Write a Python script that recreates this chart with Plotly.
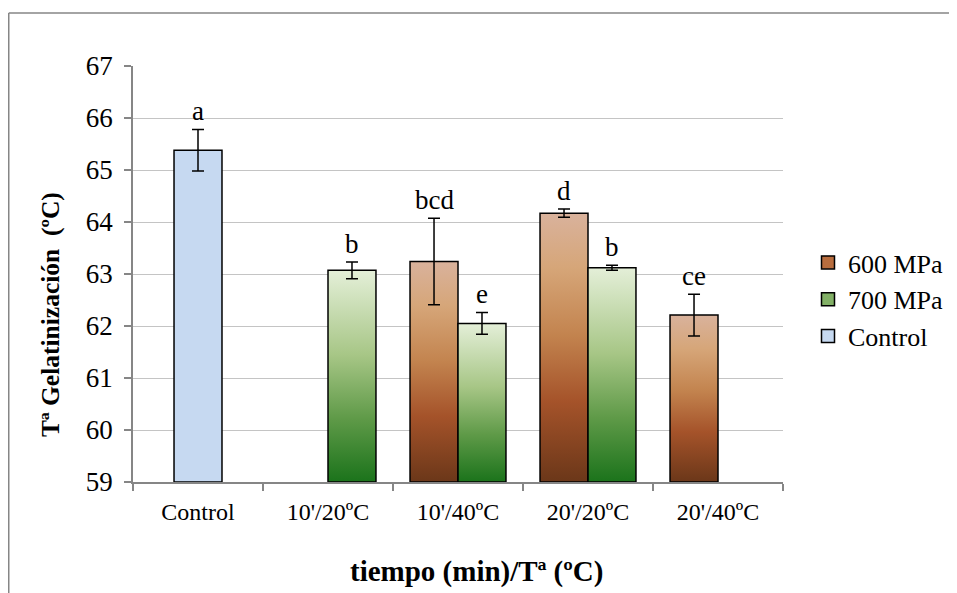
import plotly.graph_objects as go

# ---------------- data ----------------
categories = ["Control", "10'/20ºC", "10'/40ºC", "20'/20ºC", "20'/40ºC"]

p600_values = [None, None, 63.24, 64.17, 62.21]
p600_errors = [None, None, 0.83, 0.08, 0.40]
p600_letters = ["", "", "bcd", "d", "ce"]

p700_values = [None, 63.07, 62.05, 63.12, None]
p700_errors = [None, 0.16, 0.21, 0.05, None]
p700_letters = ["", "b", "e", "b", ""]

control_values = [65.38, None, None, None, None]
control_errors = [0.40, None, None, None, None]
control_letters = ["a", "", "", "", ""]

y_ticks = [59, 60, 61, 62, 63, 64, 65, 66, 67]

x_title = "tiempo (min)/Tª (ºC)"
y_title = "Tª Gelatinización  (ºC)"

# ---------------- styling ----------------
FONT = "Liberation Serif"
Y_MIN, Y_MAX = 59, 67
BAR_W = 0.369

grad_600 = [[0.0, "#6b3719"], [0.3, "#a5532a"], [0.55, "#c3844f"], [0.8, "#d6a679"], [1.0, "#d9b29c"]]
grad_700 = [[0.0, "#1b731b"], [0.3, "#5f9a48"], [0.6, "#a7c686"], [1.0, "#e4efd8"]]
control_color = "#c6d9f1"
legend_colors = {"600 MPa": "#b86d3e", "700 MPa": "#82b066", "Control": control_color}

series = [
    ("600 MPa", p600_values, p600_errors, p600_letters, -BAR_W, 0.0, grad_600),
    ("700 MPa", p700_values, p700_errors, p700_letters, 0.0, BAR_W, grad_700),
    ("Control", control_values, control_errors, control_letters, -BAR_W / 2, BAR_W / 2, None),
]

fig = go.Figure()
letter_annotations = []

for name, vals, errs, letters, off0, off1, grad in series:
    cx, cy, ce = [], [], []
    for i, v in enumerate(vals):
        if v is None:
            continue
        x0, x1 = i + off0, i + off1
        kw = dict(
            x=[x0, x0, x1, x1, x0],
            y=[Y_MIN, v, v, Y_MIN, Y_MIN],
            mode="lines",
            fill="toself",
            line=dict(color="black", width=1.5),
            name=name,
            legendgroup=name,
            showlegend=False,
            hoverinfo="skip",
        )
        if grad is not None:
            kw["fillgradient"] = dict(type="vertical", colorscale=grad)
        else:
            kw["fillcolor"] = control_color
        fig.add_trace(go.Scatter(**kw))
        c = (x0 + x1) / 2
        cx.append(c)
        cy.append(v)
        ce.append(errs[i])
        letter_annotations.append(dict(
            x=c, y=v + errs[i], xref="x", yref="y", text=letters[i],
            showarrow=False, xanchor="center", yanchor="bottom", yshift=1,
            font=dict(family=FONT, size=27, color="black"),
        ))
    fig.add_trace(go.Scatter(
        x=cx, y=cy, mode="markers",
        marker=dict(size=1, opacity=0),
        error_y=dict(type="data", array=ce, color="black", thickness=1.5, width=6),
        showlegend=False, hoverinfo="skip",
    ))

# legend swatches
for name, *_ in series:
    fig.add_trace(go.Scatter(
        x=[None], y=[None], mode="markers", name=name, legendgroup=name,
        marker=dict(symbol="square", size=13, color=legend_colors[name],
                    line=dict(color="black", width=1.5)),
        showlegend=True, hoverinfo="skip",
    ))

W, H = 957, 593
L, T = 125, 58
R, B = W - 775, H - 474
pw, ph = W - L - R, H - T - B

fig.update_layout(
    width=W, height=H,
    margin=dict(l=L, r=R, t=T, b=B),
    paper_bgcolor="white", plot_bgcolor="white",
    font=dict(family=FONT, color="black"),
    xaxis=dict(
        range=[-0.5, len(categories) - 0.5],
        tickmode="array",
        tickvals=list(range(len(categories))),
        ticktext=categories,
        ticks="",
        tickfont=dict(family=FONT, size=24),
        ticklabelstandoff=7,
        showgrid=False, zeroline=False,
        showline=True, linecolor="#868686", linewidth=1.5,
        minor=dict(
            tickmode="array",
            tickvals=[i - 0.5 for i in range(len(categories) + 1)],
            ticks="outside", ticklen=7, tickwidth=1.5, tickcolor="#868686",
            showgrid=False,
        ),
        fixedrange=True,
    ),
    yaxis=dict(
        range=[Y_MIN, Y_MAX],
        tickmode="array", tickvals=y_ticks,
        ticks="outside", ticklen=7, tickwidth=1.5, tickcolor="#868686",
        tickfont=dict(family=FONT, size=27),
        ticklabelstandoff=6,
        showgrid=True, gridcolor="#c4c4c4", gridwidth=1.4,
        zeroline=False,
        showline=True, linecolor="#868686", linewidth=1.5,
        fixedrange=True,
    ),
    legend=dict(
        x=(800 - L) / pw, xanchor="left",
        y=(474 - 231) / ph, yanchor="top",
        font=dict(family=FONT, size=26),
        tracegroupgap=7,
        traceorder="normal",
        bgcolor="rgba(0,0,0,0)",
    ),
    annotations=letter_annotations + [
        dict(text=x_title, xref="paper", yref="paper",
             x=(468 - L) / pw, y=(474 - 563) / ph,
             xanchor="center", yanchor="middle", showarrow=False,
             font=dict(family=FONT, size=29, weight="bold", color="black")),
        dict(text=y_title, xref="paper", yref="paper",
             x=(42 - L) / pw, y=(474 - 307) / ph, textangle=-90,
             xanchor="center", yanchor="middle", showarrow=False,
             font=dict(family=FONT, size=25.5, weight="bold", color="black")),
    ],
    shapes=[
        dict(type="line", xref="paper", yref="paper",
             x0=(0.75 - L) / pw, x1=(W + 20 - L) / pw,
             y0=(474 - 5) / ph, y1=(474 - 5) / ph,
             line=dict(color="#868686", width=1.5), layer="below"),
        dict(type="line", xref="paper", yref="paper",
             x0=(0.75 - L) / pw, x1=(0.75 - L) / pw,
             y0=(474 - 5) / ph, y1=-(H + 20 - 474) / ph,
             line=dict(color="#868686", width=1.5), layer="below"),
    ],
    showlegend=True,
)

fig.write_html("out.html")
